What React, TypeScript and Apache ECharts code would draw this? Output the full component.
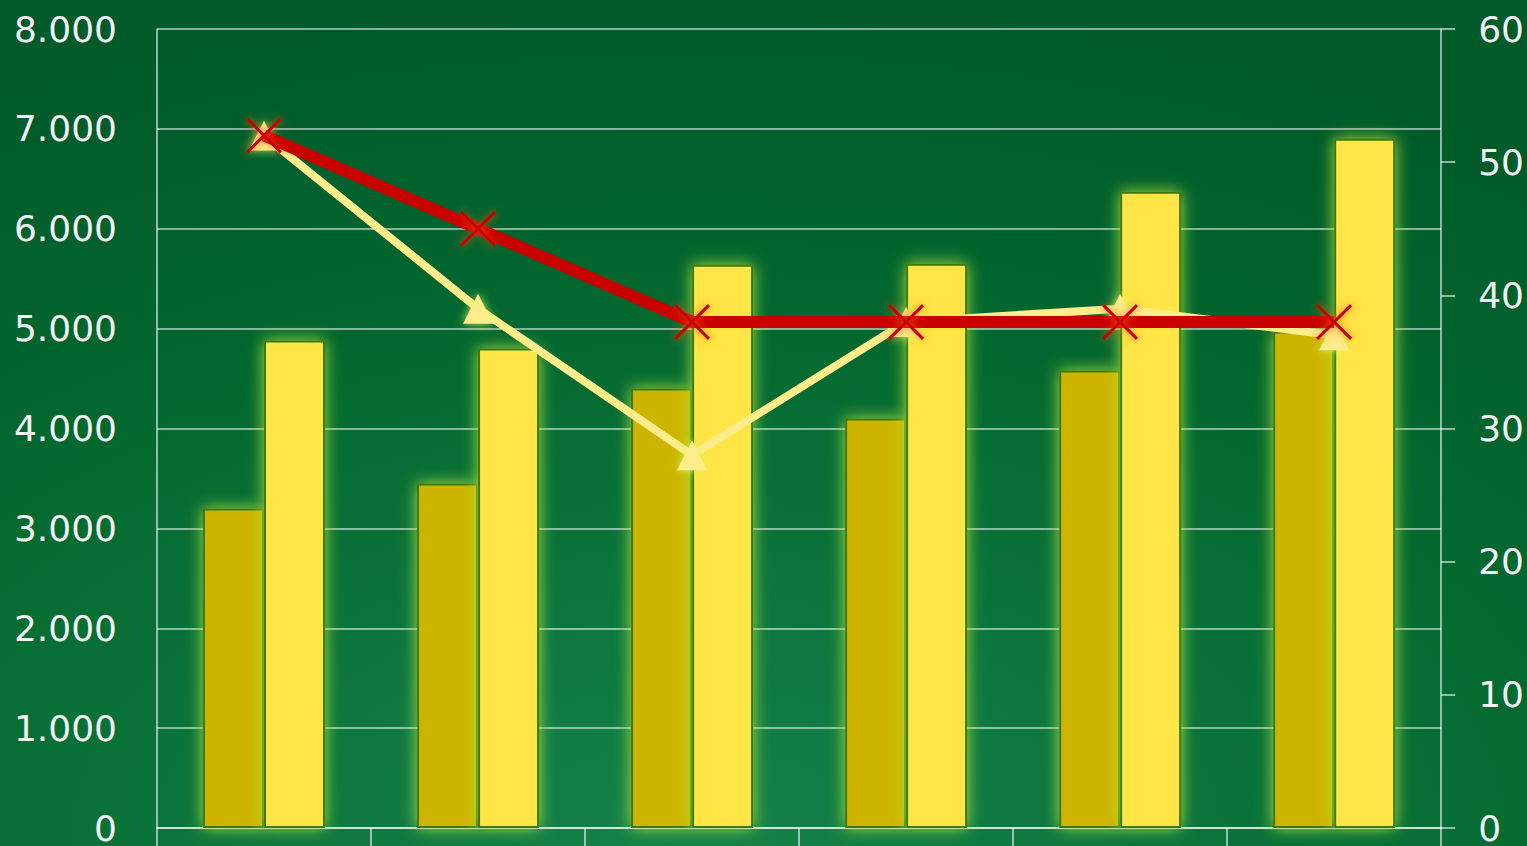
import React, { useEffect, useRef } from "react";
import * as echarts from "echarts";

const categories = ["1", "2", "3", "4", "5", "6"];
const barDark = [3200, 3450, 4400, 4100, 4580, 4970];
const barLight = [4880, 4800, 5640, 5650, 6370, 6900];
const lineYellow = [52, 39, 28, 38, 39, 37];
const lineRed = [52, 45, 38, 38, 38, 38];

const X_PATH =
  "path://M0,1.2 L1.2,0 L10,8.8 L18.8,0 L20,1.2 L11.2,10 L20,18.8 L18.8,20 L10,11.2 L1.2,20 L0,18.8 L8.8,10 Z";

export default function App() {
  const ref = useRef<HTMLDivElement>(null);
  useEffect(() => {
    document.body.style.margin = "0";
    const chart = echarts.init(ref.current!, null, { renderer: "svg" });
    const font = "DejaVu Sans";
    const barItem = (color: string) => ({
      color,
      borderColor: "#3d7a0c",
      borderWidth: 2,
      shadowBlur: 16,
      shadowColor: "rgba(175,230,60,0.95)",
    });
    chart.setOption({
      animation: false,
      backgroundColor: {
        type: "radial",
        x: 0.45,
        y: 1.0,
        r: 1.0,
        colorStops: [
          { offset: 0, color: "#15824a" },
          { offset: 0.6, color: "#03692f" },
          { offset: 1, color: "#005a2a" },
        ],
      },
      grid: { left: 157, right: 85, top: 29, bottom: 15 },
      xAxis: {
        type: "category",
        data: categories,
        axisLine: { show: true, lineStyle: { color: "rgba(255,255,255,0.75)", width: 1.5 } },
        axisTick: { show: true, alignWithLabel: false, length: 20, inside: false, lineStyle: { color: "rgba(255,255,255,0.75)", width: 1.5 } },
        axisLabel: { show: false },
        splitLine: { show: false },
      },
      yAxis: [
        {
          type: "value",
          min: 0,
          max: 8000,
          interval: 1000,
          position: "left",
          axisLine: { show: true, lineStyle: { color: "rgba(255,255,255,0.75)", width: 1.5 } },
          axisTick: { show: false },
          axisLabel: {
            color: "#f2f2f2",
            fontSize: 36,
            fontFamily: font,
            margin: 40,
            formatter: (v: number) => (v === 0 ? "0" : (v / 1000).toFixed(3)),
          },
          splitLine: { show: true, lineStyle: { color: "rgba(255,255,255,0.7)", width: 1.5 } },
        },
        {
          type: "value",
          min: 0,
          max: 60,
          interval: 10,
          position: "right",
          axisLine: { show: true, lineStyle: { color: "rgba(255,255,255,0.75)", width: 1.5 } },
          axisTick: { show: true, length: 14, lineStyle: { color: "rgba(255,255,255,0.75)", width: 1.5 } },
          axisLabel: { color: "#f2f2f2", fontSize: 36, fontFamily: font, margin: 37 },
          splitLine: { show: false },
        },
      ],
      series: [
        {
          type: "bar",
          data: barDark,
          barWidth: 61,
          barGap: "0%",
          itemStyle: barItem("#cdb400"),
        },
        {
          type: "bar",
          data: barLight,
          barWidth: 61,
          itemStyle: barItem("#ffe545"),
        },
        {
          type: "line",
          yAxisIndex: 1,
          data: lineYellow,
          symbol: "triangle",
          symbolSize: 30,
          lineStyle: { color: "#ffec8a", width: 8 },
          itemStyle: {
            color: "#ffec8a",
            shadowBlur: 10,
            shadowColor: "rgba(200,255,90,0.9)",
          },
          z: 3,
        },
        {
          type: "line",
          yAxisIndex: 1,
          data: lineRed,
          symbol: X_PATH,
          symbolSize: 36,
          lineStyle: { color: "#c80000", width: 12 },
          itemStyle: {
            color: "#c80000",
            shadowBlur: 10,
            shadowColor: "rgba(255,90,20,0.9)",
          },
          z: 4,
        },
      ],
    });
    return () => chart.dispose();
  }, []);
  return <div ref={ref} style={{ width: 1527, height: 846 }} />;
}
